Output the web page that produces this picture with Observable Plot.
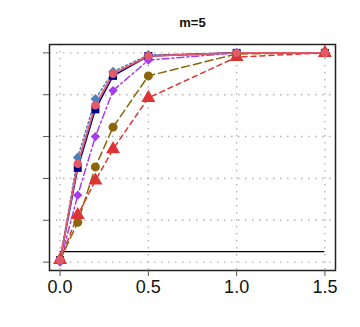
<!DOCTYPE html>
<html>
<head>
<meta charset="utf-8">
<script src="https://cdn.jsdelivr.net/npm/d3@7"></script>
<script src="https://cdn.jsdelivr.net/npm/@observablehq/plot@0.6"></script>
<style>
  html, body { margin: 0; padding: 0; background: #fff; }
  svg { display: block; font-family: "Liberation Sans", Arial, sans-serif; }
</style>
</head>
<body>
<div id="chart"></div>
<script>
const title = ["m=5"];
const xs = [0, 0.1, 0.2, 0.3, 0.5, 1.0, 1.5];
const xTicks = [0, 0.5, 1.0, 1.5];
const xTickLabels = ["0.0", "0.5", "1.0", "1.5"];
const yTicks = [0, 0.2, 0.4, 0.6, 0.8, 1.0];
const refLevel = [0.05];

const sSteel  = [0.01, 0.50, 0.78, 0.91, 0.99, 1.0, 1.0];
const sNavy   = [0.01, 0.45, 0.73, 0.89, 0.985, 1.0, 1.0];
const sPurple = [0.00, 0.32, 0.60, 0.82, 0.965, 1.0, 1.0];
const sOlive  = [0.01, 0.19, 0.455, 0.645, 0.89, 0.995, 1.0];
const sRed    = [0.01, 0.225, 0.39, 0.54, 0.785, 0.98, 1.0];
const sSalmon = [0.01, 0.47, 0.75, 0.90, 0.985, 1.0, 1.0];

const series = [
  {vals: sSteel,  color: "#4f7fb8", symbol: "diamond2", dash: "2,2.5", r: 4.4, w: 1.5},
  {vals: sNavy,   color: "#00008b", symbol: "square",   dash: null,    r: 4.5, w: 1.5},
  {vals: sPurple, color: "#a63cf0", symbol: "diamond2", dash: "7,3,2,3", r: 4.2, w: 1.5},
  {vals: sOlive,  color: "#8b6508", symbol: "circle",   dash: "8,4",   r: 4.5, w: 1.5},
  {vals: sRed,    color: "#dd3333", symbol: "triangle", dash: "5,4",   r: 5.2, w: 1.5},
  {vals: sSalmon, color: "#e05a68", symbol: "circle",   dash: null,    r: 4.2, w: 1.8}
];

const marks = [
  Plot.gridX(xTicks, {stroke: "#b4b4b4", strokeOpacity: 1, strokeDasharray: "1.5,5.5", strokeWidth: 1.4}),
  Plot.gridY(yTicks, {stroke: "#b4b4b4", strokeOpacity: 1, strokeDasharray: "1.5,5.5", strokeWidth: 1.4}),
  Plot.ruleY(refLevel, {x1: 0, x2: 1.5, stroke: "black", strokeWidth: 1.3}),
];
for (const s of series) {
  const data = xs.map((x, i) => ({x, y: s.vals[i]}));
  marks.push(Plot.line(data, {x: "x", y: "y", stroke: s.color, strokeWidth: s.w, strokeDasharray: s.dash ?? undefined}));
}
for (const s of series) {
  const data = xs.map((x, i) => ({x, y: s.vals[i]}));
  marks.push(Plot.dot(data, {x: "x", y: "y", fill: s.color, stroke: "none", symbol: () => s.symbol, r: s.r}));
}
marks.push(
  Plot.frame({stroke: "#222", strokeWidth: 1.5}),
  Plot.axisX(xTicks, {tickSize: 6, tickPadding: 4, tickFormat: (d, i) => xTickLabels[i], fontSize: 18, stroke: "#555", fill: "#111"}),
  Plot.axisY(yTicks, {tickSize: 6, tickFormat: () => "", stroke: "#555"}),
  Plot.text(title, {frameAnchor: "top", dy: -27, fontWeight: "bold", fontSize: 13, fill: "#111"})
);

const chart = Plot.plot({
  width: 360,
  height: 327,
  marginLeft: 49,
  marginRight: 25,
  marginTop: 44,
  marginBottom: 57,
  x: {domain: [-0.06, 1.56], label: null},
  y: {domain: [-0.04, 1.04], label: null},
  style: {fontFamily: "Liberation Sans, Arial, sans-serif", background: "#fff"},
  marks
});
document.getElementById("chart").appendChild(chart);
</script>
</body>
</html>
